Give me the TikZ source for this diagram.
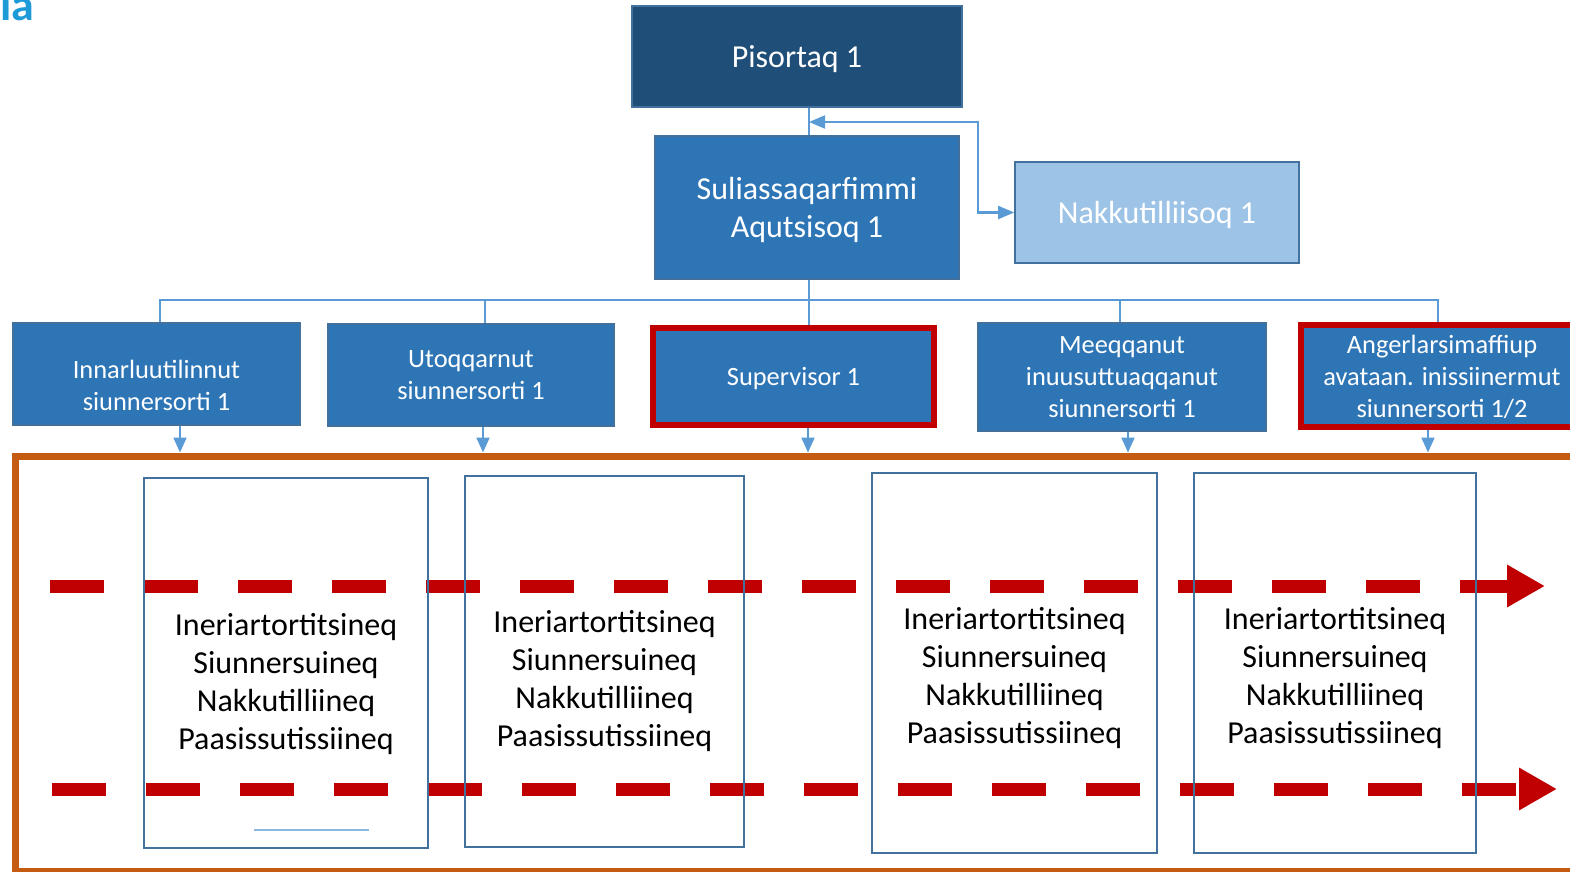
\documentclass[tikz,border=0pt]{standalone}
\usepackage{fontspec}
\setmainfont{Carlito}
\usetikzlibrary{arrows.meta}
\definecolor{darkblue}{HTML}{1F4E79}
\definecolor{midblue}{HTML}{2E75B6}
\definecolor{paleblue}{HTML}{9DC3E6}
\definecolor{edgeblue}{HTML}{41719C}
\definecolor{linkblue}{HTML}{5B9BD5}
\definecolor{markred}{HTML}{C00000}
\definecolor{frameorange}{HTML}{C55A11}
\definecolor{logoblue}{HTML}{1C9BD8}
\tikzset{
  unit/.style={draw=edgeblue, line width=0.8pt, text=white, align=center, inner sep=0pt, text depth=0pt},
  bigtext/.style={font=\fontsize{16}{19}\selectfont},
  smalltext/.style={font=\fontsize{13.2}{16}\selectfont},
  marked/.style={draw=markred, line width=3pt},
  link/.style={draw=linkblue, line width=1pt},
  drop/.style={link, -{Triangle[length=7.5pt,width=6.5pt]}},
  flow/.style={draw=markred, line width=6.5pt, dash pattern=on 27pt off 20pt,
    -{Triangle[length=19pt,width=20pt]}},
  stage/.style={draw=edgeblue, line width=1pt, inner sep=0pt},
  task/.style={font=\fontsize{16}{19}\selectfont, align=center},
}
\begin{document}
\begin{tikzpicture}[x=0.5pt,y=-0.5pt]
    \useasboundingbox (0,0) rectangle (1570,872);
    \node [anchor=base east, inner sep=0pt, text=logoblue, font=\fontsize{23}{23}\selectfont\bfseries] (logo) at (35,21) {la};
    % top of the chart
    \node [unit, bigtext, fill=darkblue, minimum width=165pt, minimum height=50.5pt] (pis) at (797,56.5) {Pisortaq 1};
    \node [unit, bigtext, fill=midblue, minimum width=152pt, minimum height=71.5pt] (sul) at (807,207.5) {Suliassaqarfimmi\\Aqutsisoq 1};
    \node [unit, bigtext, fill=paleblue, minimum width=142pt, minimum height=50.5pt] (nak) at (1157,212.5) {Nakkutilliisoq 1};
    % second row
    \node [unit, smalltext, fill=midblue, text height=36pt, minimum width=143.5pt, minimum height=51pt] (inn) at (156.5,374) {Innarluutilinnut\\siunnersorti 1};
    \node [unit, smalltext, fill=midblue, minimum width=143pt, minimum height=51pt] (utq) at (471,375) {Utoqqarnut\\siunnersorti 1};
    \node [unit, smalltext, fill=midblue, marked, minimum width=140.5pt, minimum height=48.5pt] (sup) at (793.5,376.5) {Supervisor 1};
    \node [unit, smalltext, fill=midblue, minimum width=144pt, minimum height=54pt] (mee) at (1122,377) {Meeqqanut\\inuusuttuaqqanut\\siunnersorti 1};
    \node [unit, smalltext, fill=midblue, marked, minimum width=141pt, minimum height=51pt] (ang) at (1442,376) {Angerlarsimaffiup\\avataan. inissiinermut\\siunnersorti 1/2};
    \coordinate (jn) at (809,122);
    \coordinate (bus) at (809,300);
    \draw [link] (pis.south -| jn) -- (sul.north -| jn);
    \draw [link, {Triangle[length=8pt,width=6.5pt]}-{Triangle[length=8pt,width=6.5pt]}] (nak.west) -| (978,122) -- (jn);
    \draw [link] (sul.south -| bus) -- (sup.north -| bus);
    \draw [link] (inn.north -| 160,0) |- (bus) -| (ang.north -| 1438,0);
    \draw [link] (utq.north -| 485,0) -- (485,300);
    \draw [link] (mee.north -| 1120,0) -- (1120,300);
    % frame with the stages
    \node [draw=frameorange, line width=3.5pt, inner sep=0pt, minimum width=792pt, minimum height=207.5pt] (frame) at (807.75,663.5) {};
    \draw [drop] (inn.south -| 180,0) -- (frame.north -| 180,0);
    \draw [drop] (utq.south -| 483,0) -- (frame.north -| 483,0);
    \draw [drop] (sup.south -| 808,0) -- (frame.north -| 808,0);
    \draw [drop] (mee.south -| 1128,0) -- (frame.north -| 1128,0);
    \draw [drop] (ang.south -| 1428,0) -- (frame.north -| 1428,0);
    \coordinate (f1s) at (50,586);
    \coordinate (f1e) at (1545,586);
    \coordinate (f2s) at (52,789);
    \coordinate (f2e) at (1557,789);
    \draw [flow] (f1s) -- (f1e);
    \draw [flow] (f2s) -- (f2e);
    \node [stage, minimum width=142pt, minimum height=185pt] (b1) at (286,663) {};
    \node [stage, minimum width=139.5pt, minimum height=185.5pt] (b2) at (604.5,661.5) {};
    \node [stage, minimum width=142.5pt, minimum height=190pt] (b3) at (1014.5,663) {};
    \node [stage, minimum width=141pt, minimum height=190pt] (b4) at (1335,663) {};
    \node [task] (t1) at (286,684) {Ineriartortitsineq\\Siunnersuineq\\Nakkutilliineq\\Paasissutissiineq};
    \node [task] (t2) at (604.5,681.5) {Ineriartortitsineq\\Siunnersuineq\\Nakkutilliineq\\Paasissutissiineq};
    \node [task] (t3) at (1014.5,678) {Ineriartortitsineq\\Siunnersuineq\\Nakkutilliineq\\Paasissutissiineq};
    \node [task] (t4) at (1335,678) {Ineriartortitsineq\\Siunnersuineq\\Nakkutilliineq\\Paasissutissiineq};
    \draw [draw=linkblue!70, line width=1pt] (254,830) -- (369,830);
\end{tikzpicture}
\end{document}
